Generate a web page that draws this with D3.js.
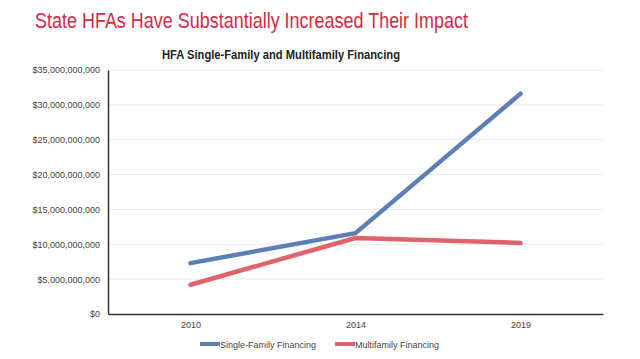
<!DOCTYPE html>
<html><head><meta charset="utf-8">
<script src="https://cdn.jsdelivr.net/npm/d3@7"></script>
<style>body{margin:0;background:#fff;}svg{display:block;font-family:"Liberation Sans",Arial,sans-serif;}</style>
</head><body><svg id="c" width="640" height="359"></svg>
<script>
const years = ["2010", "2014", "2019"];
const singleFamily = [7.3e9, 11.6e9, 31.6e9];
const multifamily = [4.2e9, 10.9e9, 10.2e9];
const yTicks = [0, 5e9, 10e9, 15e9, 20e9, 25e9, 30e9, 35e9];
const seriesNames = ["Single-Family Financing", "Multifamily Financing"];
const colors = ["#5b7fb6", "#e0636b"];

(function () {
const svg = d3.select("#c");
const pLeft = 108, pRight = 603, pTop = 70, pBottom = 314;
const x = d3.scalePoint().domain(years).range([pLeft, pRight]).padding(0.5);
const y = d3.scaleLinear().domain([0, 35e9]).range([pBottom, pTop]);

svg.append("text").attr("x", 35).attr("y", 28)
  .attr("font-size", 22).attr("fill", "#d42a45")
  .attr("textLength", 433).attr("lengthAdjust", "spacingAndGlyphs")
  .text("State HFAs Have Substantially Increased Their Impact");
svg.append("text").attr("x", 162).attr("y", 59)
  .attr("font-size", 12.5).attr("font-weight", "bold").attr("fill", "#222")
  .attr("textLength", 238).attr("lengthAdjust", "spacingAndGlyphs")
  .text("HFA Single-Family and Multifamily Financing");

svg.append("g").selectAll("line").data(yTicks.slice(1)).join("line")
  .attr("x1", pLeft).attr("x2", pRight).attr("y1", d => y(d)).attr("y2", d => y(d))
  .attr("stroke", "#ebebeb").attr("stroke-width", 1);

const fmt = d => "$" + d3.format(",")(d);
const ya = svg.append("g").attr("transform", `translate(${pLeft},0)`)
  .call(d3.axisLeft(y).tickValues(yTicks).tickFormat(fmt).tickSize(0).tickPadding(8));
ya.select(".domain").attr("stroke", "#333").attr("stroke-width", 1.5);
ya.selectAll("text").attr("font-size", 9).attr("fill", "#444").attr("font-family", "Liberation Sans, Arial, sans-serif");

const xa = svg.append("g").attr("transform", `translate(0,${pBottom})`)
  .call(d3.axisBottom(x).tickSize(0).tickPadding(8));
xa.select(".domain").attr("stroke", "#333").attr("stroke-width", 1.5);
xa.selectAll("text").attr("font-size", 9).attr("fill", "#444").attr("font-family", "Liberation Sans, Arial, sans-serif");

const line = d3.line().x((d, i) => x(years[i])).y(d => y(d));
[singleFamily, multifamily].forEach((s, k) => {
  svg.append("path").datum(s).attr("d", line).attr("fill", "none")
    .attr("stroke", colors[k]).attr("stroke-width", 4.5).attr("stroke-linejoin", "round").attr("stroke-linecap", "round");
});

const leg = [{x: 200, tx: 220}, {x: 335, tx: 355}];
seriesNames.forEach((n, k) => {
  svg.append("line").attr("x1", leg[k].x).attr("x2", leg[k].x + 20).attr("y1", 344).attr("y2", 344)
    .attr("stroke", colors[k]).attr("stroke-width", 4);
  svg.append("text").attr("x", leg[k].tx).attr("y", 347.5).attr("font-size", 9).attr("fill", "#444").text(n);
});
})();
</script></body></html>
